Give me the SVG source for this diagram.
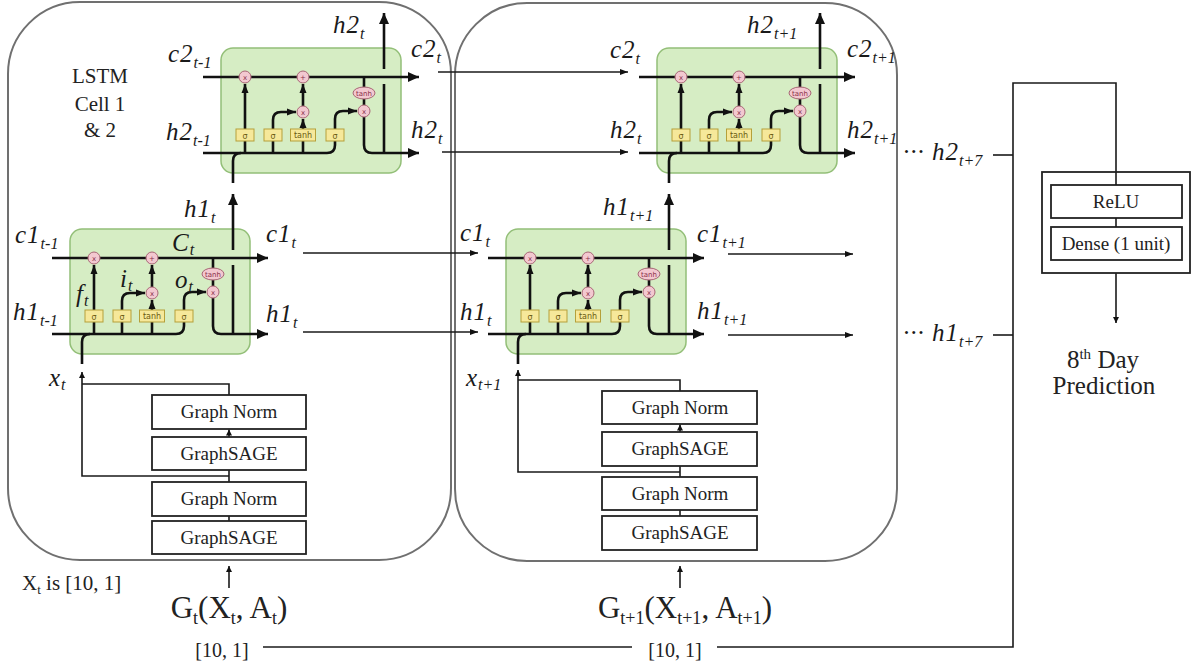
<svg xmlns="http://www.w3.org/2000/svg" xmlns:xlink="http://www.w3.org/1999/xlink" width="1192" height="666" viewBox="0 0 1192 666">
<style>
.panel{fill:none;stroke:#707070;stroke-width:2}
.cellbox{fill:#d6edc4;stroke:#93bf78;stroke-width:1.5}
.lw{fill:none;stroke:#111;stroke-width:2.6}
.gate{fill:#f6e89a;stroke:#b5a03a;stroke-width:1}
.op{fill:#f3c8d0;stroke:#a86676;stroke-width:1}
.opt{font-family:"DejaVu Sans",sans-serif;font-size:7px;fill:#8a3048;text-anchor:middle}
.gt{font-family:"DejaVu Sans",sans-serif;font-size:8px;fill:#6a5a10;text-anchor:middle}
.thin{fill:none;stroke:#1a1a1a;stroke-width:1.6}
.box{fill:#fff;stroke:#222;stroke-width:1.8}
.serif{font-family:"Liberation Serif","Times New Roman",serif;fill:#222}
.lab{font-family:"Liberation Serif","Times New Roman",serif;font-style:italic;font-size:25px;fill:#1a1a1a;letter-spacing:1px}
.sub{font-size:16px;letter-spacing:0}
.bt{font-family:"Liberation Serif","Times New Roman",serif;font-size:19px;text-anchor:middle;fill:#222}
</style>
<defs>
<marker id="ah" markerUnits="userSpaceOnUse" markerWidth="12" markerHeight="10" refX="11" refY="5" orient="auto"><path d="M0,0 L11,5 L0,10 z" fill="#111"/></marker>
<marker id="am" markerUnits="userSpaceOnUse" markerWidth="10" markerHeight="8" refX="9" refY="4" orient="auto"><path d="M0,0.5 L9,4 L0,7.5 z" fill="#111"/></marker>
<marker id="as" markerUnits="userSpaceOnUse" markerWidth="9" markerHeight="7" refX="8" refY="3.5" orient="auto"><path d="M0,0.5 L8,3.5 L0,6.5 z" fill="#111"/></marker>
<marker id="at" markerUnits="userSpaceOnUse" markerWidth="7" markerHeight="6" refX="6" refY="3" orient="auto"><path d="M0,0 L6,3 L0,6 z" fill="#111"/></marker>
<g id="cell">
<rect class="cellbox" x="0" y="0" width="180" height="125" rx="12"/>
<path class="lw" d="M-18,29 H198" marker-end="url(#ah)"/>
<path class="lw" d="M-18,105 H106 Q114,105 114,97 V71 Q114,63 122,63 H136" marker-end="url(#am)"/>
<path class="lw" d="M12,135 V113 Q12,105 20,105"/>
<path class="lw" d="M24,105 V36" marker-end="url(#am)"/>
<path class="lw" d="M52,105 V72 Q52,64 60,64 H75" marker-end="url(#am)"/>
<path class="lw" d="M82,105 V71" marker-end="url(#am)"/>
<path class="lw" d="M82,58 V36" marker-end="url(#am)"/>
<path class="lw" d="M143,29 V57"/>
<path class="lw" d="M143,69 V97 Q143,105 151,105 H198" marker-end="url(#ah)"/>
<path class="lw" d="M163,105 V36"/>
<path class="lw" d="M163,21 V-35" marker-end="url(#ah)"/>
<rect class="gate" x="15" y="81" width="18" height="12"/><text class="gt" x="24" y="90.5">σ</text>
<rect class="gate" x="43" y="81" width="18" height="12"/><text class="gt" x="52" y="90.5">σ</text>
<rect class="gate" x="69.5" y="81" width="25" height="12"/><text class="gt" x="82" y="90">tanh</text>
<rect class="gate" x="105" y="81" width="18" height="12"/><text class="gt" x="114" y="90.5">σ</text>
<circle class="op" cx="24" cy="29" r="6"/><text class="opt" x="24" y="31.5">x</text>
<circle class="op" cx="82" cy="29" r="6"/><text class="opt" x="82" y="31.5">+</text>
<circle class="op" cx="82" cy="64" r="6"/><text class="opt" x="82" y="66.5">x</text>
<ellipse class="op" cx="143" cy="45" rx="11" ry="6"/><text class="opt" x="143" y="47.5">tanh</text>
<circle class="op" cx="143" cy="63" r="6"/><text class="opt" x="143" y="65.5">x</text>
</g>
</defs>

<g id="panels">
<rect id="panel-left" class="panel" x="8" y="2" width="443" height="558" rx="72"/>
<rect id="panel-right" class="panel" x="455" y="3" width="442" height="558" rx="72"/>
</g>

<g id="connectors">
<path class="thin" d="M438,72 H628" marker-end="url(#as)"/>
<path class="thin" d="M442,152 H628" marker-end="url(#as)"/>
<path class="thin" d="M303,253 H478" marker-end="url(#as)"/>
<path class="thin" d="M303,332 H478" marker-end="url(#as)"/>
<path class="thin" d="M728,254 H853" marker-end="url(#as)"/>
<path class="thin" d="M728,335 H853" marker-end="url(#as)"/>
<!-- left graph stack -->
<path class="thin" d="M229,395 V384 H82"/>
<path class="thin" d="M229,476 H82 V372" marker-end="url(#at)"/>
<path class="thin" d="M229,482 V470"/>
<path class="thin" d="M229,437 V429.5" marker-end="url(#at)"/>
<path class="thin" d="M229,521 V516"/>
<path class="thin" d="M229,588 V566" marker-end="url(#at)"/>
<!-- right graph stack -->
<path class="thin" d="M680,391 V380 H518"/>
<path class="thin" d="M680,472 H518 V370" marker-end="url(#at)"/>
<path class="thin" d="M680,477 V466"/>
<path class="thin" d="M680,432 V424.5" marker-end="url(#at)"/>
<path class="thin" d="M680,516 V510"/>
<path class="thin" d="M680,588 V566" marker-end="url(#at)"/>
<!-- outputs to dense -->
<path class="thin" d="M263,647 H632"/>
<path class="thin" d="M717,647 H1013 V83 H1116 V185"/>
<path class="thin" d="M993,155 H1013"/>
<path class="thin" d="M993,335 H1013"/>
<path class="thin" d="M1116,218 V227"/>
<path class="thin" d="M1116,260 V323" marker-end="url(#at)"/>
</g>

<g id="cell1-left"><use xlink:href="#cell" href="#cell" x="70" y="229"/></g>
<g id="cell2-left"><use xlink:href="#cell" href="#cell" x="221" y="48"/></g>
<g id="cell1-right"><use xlink:href="#cell" href="#cell" x="506" y="229"/></g>
<g id="cell2-right"><use xlink:href="#cell" href="#cell" x="657" y="48"/></g>

<g id="gate-labels">
<text class="lab" x="172" y="251" font-size="21">C<tspan class="sub" font-size="13" dy="4">t</tspan></text>
<text class="lab" x="76" y="302" font-size="19">f<tspan class="sub" font-size="13" dy="4">t</tspan></text>
<text class="lab" x="120" y="287" font-size="19">i<tspan class="sub" font-size="13" dy="4">t</tspan></text>
<text class="lab" x="175" y="288" font-size="19">o<tspan class="sub" font-size="13" dy="4">t</tspan></text>
</g>

<g id="title">
<text class="serif" x="100" y="83" font-size="21" text-anchor="middle">LSTM</text>
<text class="serif" x="100" y="111" font-size="21" text-anchor="middle">Cell 1</text>
<text class="serif" x="100" y="137" font-size="21" text-anchor="middle">&amp; 2</text>
</g>

<g id="labels-left">
<text class="lab" x="168" y="62">c2<tspan class="sub" dy="6">t-1</tspan></text>
<text class="lab" x="166" y="140">h2<tspan class="sub" dy="6">t-1</tspan></text>
<text class="lab" x="333" y="33">h2<tspan class="sub" dy="6">t</tspan></text>
<text class="lab" x="411" y="57">c2<tspan class="sub" dy="6">t</tspan></text>
<text class="lab" x="411" y="138">h2<tspan class="sub" dy="6">t</tspan></text>
<text class="lab" x="184" y="217">h1<tspan class="sub" dy="6">t</tspan></text>
<text class="lab" x="15" y="243">c1<tspan class="sub" dy="6">t-1</tspan></text>
<text class="lab" x="13" y="320">h1<tspan class="sub" dy="6">t-1</tspan></text>
<text class="lab" x="266" y="242">c1<tspan class="sub" dy="6">t</tspan></text>
<text class="lab" x="266" y="322">h1<tspan class="sub" dy="6">t</tspan></text>
<text class="lab" x="49" y="386" font-size="20">x<tspan class="sub" font-size="13" dy="4">t</tspan></text>
</g>

<g id="labels-right">
<text class="lab" x="610" y="58">c2<tspan class="sub" dy="6">t</tspan></text>
<text class="lab" x="610" y="138">h2<tspan class="sub" dy="6">t</tspan></text>
<text class="lab" x="747" y="33">h2<tspan class="sub" dy="6">t+1</tspan></text>
<text class="lab" x="847" y="57">c2<tspan class="sub" dy="6">t+1</tspan></text>
<text class="lab" x="847" y="138">h2<tspan class="sub" dy="6">t+1</tspan></text>
<text class="lab" x="460" y="241">c1<tspan class="sub" dy="6">t</tspan></text>
<text class="lab" x="460" y="320">h1<tspan class="sub" dy="6">t</tspan></text>
<text class="lab" x="603" y="215">h1<tspan class="sub" dy="6">t+1</tspan></text>
<text class="lab" x="697" y="242">c1<tspan class="sub" dy="6">t+1</tspan></text>
<text class="lab" x="697" y="319">h1<tspan class="sub" dy="6">t+1</tspan></text>
<text class="lab" x="466" y="386" font-size="20">x<tspan class="sub" font-size="13" dy="4">t+1</tspan></text>
<text class="lab" x="903" y="160">··· h2<tspan class="sub" dy="6">t+7</tspan></text>
<text class="lab" x="903" y="341">··· h1<tspan class="sub" dy="6">t+7</tspan></text>
</g>

<g id="graph-left">
<rect class="box" x="152" y="395" width="154" height="34"/><text class="bt" x="229" y="418">Graph Norm</text>
<rect class="box" x="152" y="437" width="154" height="33"/><text class="bt" x="229" y="460">GraphSAGE</text>
<rect class="box" x="152" y="482" width="154" height="34"/><text class="bt" x="229" y="505">Graph Norm</text>
<rect class="box" x="152" y="521" width="154" height="33"/><text class="bt" x="229" y="544">GraphSAGE</text>
</g>

<g id="graph-right">
<rect class="box" x="602" y="391" width="155" height="33"/><text class="bt" x="680" y="414">Graph Norm</text>
<rect class="box" x="602" y="432" width="155" height="34"/><text class="bt" x="680" y="455">GraphSAGE</text>
<rect class="box" x="602" y="477" width="155" height="33"/><text class="bt" x="680" y="500">Graph Norm</text>
<rect class="box" x="602" y="516" width="155" height="34"/><text class="bt" x="680" y="539">GraphSAGE</text>
</g>

<g id="inputs">
<text class="serif" x="22" y="590" font-size="21">X<tspan font-size="13" dy="4">t</tspan><tspan dy="-4"> is [10, 1]</tspan></text>
<text class="serif" x="229" y="618" font-size="31" text-anchor="middle">G<tspan font-size="18" dy="6">t</tspan><tspan dy="-6">(X</tspan><tspan font-size="18" dy="6">t</tspan><tspan dy="-6">, A</tspan><tspan font-size="18" dy="6">t</tspan><tspan dy="-6">)</tspan></text>
<text class="serif" x="222" y="657" font-size="20" text-anchor="middle">[10, 1]</text>
<text class="serif" x="685" y="618" font-size="31" text-anchor="middle">G<tspan font-size="18" dy="6">t+1</tspan><tspan dy="-6">(X</tspan><tspan font-size="18" dy="6">t+1</tspan><tspan dy="-6">, A</tspan><tspan font-size="18" dy="6">t+1</tspan><tspan dy="-6">)</tspan></text>
<text class="serif" x="675" y="657" font-size="20" text-anchor="middle">[10, 1]</text>
</g>

<g id="dense-block">
<rect class="box" x="1042" y="172" width="148" height="101"/>
<rect class="box" x="1051" y="185" width="131" height="33"/><text class="bt" x="1116" y="208">ReLU</text>
<rect class="box" x="1051" y="227" width="131" height="33"/><text class="bt" x="1116" y="250">Dense (1 unit)</text>
<path class="thin" d="M1116,172 V185"/>
<path class="thin" d="M1116,218 V227"/>
</g>

<g id="prediction">
<text class="serif" x="1103" y="368" font-size="25" text-anchor="middle">8<tspan font-size="15" dy="-9">th</tspan><tspan dy="9"> Day</tspan></text>
<text class="serif" x="1104" y="394" font-size="25" text-anchor="middle">Prediction</text>
</g>
</svg>
